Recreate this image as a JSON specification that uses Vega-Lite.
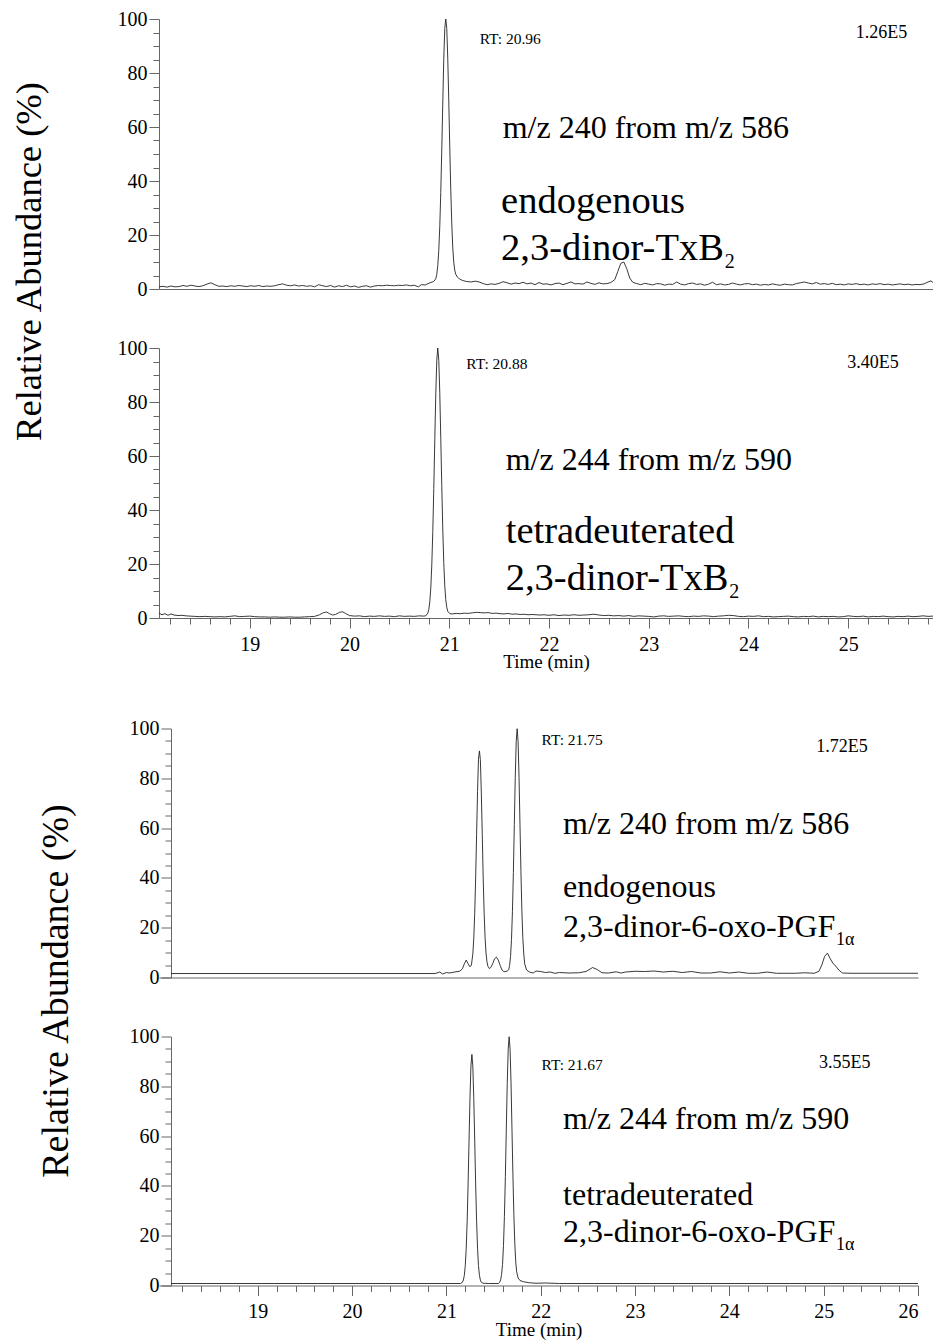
{
"$schema":"https://vega.github.io/schema/vega-lite/v6.json",
"background":"white",
"padding":{"left":10,"top":9,"right":0,"bottom":0},
"config":{"font":"Liberation Serif","view":{"stroke":null},"axis":{"labelFont":"Liberation Serif","titleFont":"Liberation Serif","domainWidth":1,"tickWidth":1},"text":{"font":"Liberation Serif"}},
"datasets":{
"c1":[{"t":18.09,"v":0.8},{"t":18.13,"v":1.0},{"t":18.17,"v":0.7},{"t":18.21,"v":1.1},{"t":18.25,"v":0.8},{"t":18.29,"v":0.9},{"t":18.33,"v":1.3},{"t":18.37,"v":1.0},{"t":18.41,"v":1.4},{"t":18.45,"v":1.1},{"t":18.49,"v":0.9},{"t":18.53,"v":1.2},{"t":18.57,"v":1.8},{"t":18.61,"v":2.3},{"t":18.65,"v":1.6},{"t":18.69,"v":1.0},{"t":18.73,"v":1.1},{"t":18.77,"v":0.9},{"t":18.81,"v":1.2},{"t":18.85,"v":1.0},{"t":18.89,"v":1.3},{"t":18.93,"v":1.1},{"t":18.97,"v":0.9},{"t":19.01,"v":1.2},{"t":19.05,"v":1.0},{"t":19.09,"v":1.3},{"t":19.13,"v":0.9},{"t":19.17,"v":1.1},{"t":19.21,"v":1.0},{"t":19.25,"v":1.2},{"t":19.29,"v":1.6},{"t":19.33,"v":1.9},{"t":19.37,"v":1.4},{"t":19.41,"v":1.2},{"t":19.45,"v":1.5},{"t":19.49,"v":1.1},{"t":19.53,"v":1.3},{"t":19.57,"v":1.0},{"t":19.61,"v":1.2},{"t":19.65,"v":0.8},{"t":19.69,"v":1.6},{"t":19.73,"v":1.2},{"t":19.77,"v":0.9},{"t":19.81,"v":1.3},{"t":19.85,"v":0.7},{"t":19.89,"v":1.2},{"t":19.93,"v":0.9},{"t":19.97,"v":1.4},{"t":20.01,"v":0.8},{"t":20.05,"v":1.1},{"t":20.09,"v":0.6},{"t":20.13,"v":1.0},{"t":20.17,"v":1.2},{"t":20.21,"v":0.7},{"t":20.25,"v":1.1},{"t":20.29,"v":1.3},{"t":20.33,"v":1.2},{"t":20.37,"v":1.4},{"t":20.41,"v":1.3},{"t":20.45,"v":1.2},{"t":20.49,"v":1.4},{"t":20.53,"v":1.3},{"t":20.57,"v":1.5},{"t":20.61,"v":1.2},{"t":20.65,"v":1.4},{"t":20.69,"v":0.8},{"t":20.72,"v":1.6},{"t":20.76,"v":1.5},{"t":20.80,"v":2.2},{"t":20.83,"v":2.6},{"t":20.845,"v":2.8},{"t":20.865,"v":3.8},{"t":20.875,"v":5.4},{"t":20.885,"v":8.7},{"t":20.895,"v":14.3},{"t":20.905,"v":23.2},{"t":20.915,"v":35.7},{"t":20.925,"v":51.5},{"t":20.935,"v":68.9},{"t":20.945,"v":84.9},{"t":20.955,"v":96.4},{"t":20.965,"v":100},{"t":20.975,"v":96.5},{"t":20.985,"v":85.5},{"t":20.995,"v":70},{"t":21.005,"v":53},{"t":21.015,"v":37},{"t":21.025,"v":24.5},{"t":21.035,"v":15.5},{"t":21.045,"v":10},{"t":21.055,"v":7},{"t":21.065,"v":5.5},{"t":21.08,"v":4.5},{"t":21.10,"v":3.8},{"t":21.13,"v":3.2},{"t":21.17,"v":2.8},{"t":21.22,"v":2.6},{"t":21.26,"v":2.9},{"t":21.30,"v":2.6},{"t":21.34,"v":2.0},{"t":21.38,"v":1.6},{"t":21.42,"v":1.9},{"t":21.46,"v":1.7},{"t":21.50,"v":2.1},{"t":21.54,"v":2.7},{"t":21.58,"v":2.3},{"t":21.62,"v":1.8},{"t":21.66,"v":2.2},{"t":21.70,"v":2.0},{"t":21.74,"v":2.5},{"t":21.78,"v":1.9},{"t":21.82,"v":2.2},{"t":21.86,"v":1.6},{"t":21.90,"v":2.4},{"t":21.94,"v":1.8},{"t":21.98,"v":1.9},{"t":22.02,"v":1.5},{"t":22.06,"v":2.0},{"t":22.10,"v":2.2},{"t":22.14,"v":1.6},{"t":22.18,"v":2.1},{"t":22.22,"v":2.6},{"t":22.26,"v":1.9},{"t":22.30,"v":2.0},{"t":22.34,"v":1.8},{"t":22.38,"v":2.6},{"t":22.42,"v":2.1},{"t":22.46,"v":1.7},{"t":22.50,"v":2.3},{"t":22.54,"v":1.9},{"t":22.58,"v":2.0},{"t":22.62,"v":2.4},{"t":22.66,"v":3.5},{"t":22.69,"v":6.5},{"t":22.72,"v":9.5},{"t":22.75,"v":10.0},{"t":22.78,"v":7.5},{"t":22.81,"v":4.0},{"t":22.84,"v":2.5},{"t":22.88,"v":2.0},{"t":22.92,"v":1.6},{"t":22.96,"v":2.1},{"t":23.00,"v":1.8},{"t":23.04,"v":1.5},{"t":23.08,"v":2.0},{"t":23.12,"v":1.9},{"t":23.16,"v":1.4},{"t":23.20,"v":1.8},{"t":23.24,"v":1.7},{"t":23.28,"v":2.6},{"t":23.32,"v":1.8},{"t":23.36,"v":1.5},{"t":23.40,"v":2.0},{"t":23.44,"v":2.2},{"t":23.48,"v":1.7},{"t":23.52,"v":1.9},{"t":23.56,"v":1.4},{"t":23.60,"v":1.8},{"t":23.64,"v":2.5},{"t":23.68,"v":1.6},{"t":23.72,"v":1.9},{"t":23.76,"v":1.5},{"t":23.80,"v":1.7},{"t":23.84,"v":2.2},{"t":23.88,"v":1.8},{"t":23.92,"v":1.5},{"t":23.96,"v":1.9},{"t":24.00,"v":2.0},{"t":24.04,"v":1.6},{"t":24.08,"v":1.8},{"t":24.12,"v":1.4},{"t":24.16,"v":1.7},{"t":24.20,"v":1.5},{"t":24.24,"v":1.9},{"t":24.28,"v":1.6},{"t":24.32,"v":1.4},{"t":24.36,"v":1.8},{"t":24.40,"v":1.6},{"t":24.44,"v":1.5},{"t":24.48,"v":2.0},{"t":24.52,"v":2.3},{"t":24.56,"v":2.6},{"t":24.60,"v":2.2},{"t":24.64,"v":1.9},{"t":24.68,"v":2.4},{"t":24.72,"v":1.8},{"t":24.76,"v":2.0},{"t":24.80,"v":1.7},{"t":24.84,"v":2.1},{"t":24.88,"v":1.6},{"t":24.92,"v":1.8},{"t":24.96,"v":1.5},{"t":25.00,"v":1.9},{"t":25.04,"v":1.7},{"t":25.08,"v":2.0},{"t":25.12,"v":1.6},{"t":25.16,"v":1.8},{"t":25.20,"v":1.5},{"t":25.24,"v":1.9},{"t":25.28,"v":1.7},{"t":25.32,"v":2.0},{"t":25.36,"v":1.6},{"t":25.40,"v":1.8},{"t":25.44,"v":1.5},{"t":25.48,"v":1.7},{"t":25.52,"v":1.9},{"t":25.56,"v":1.6},{"t":25.60,"v":1.8},{"t":25.64,"v":1.5},{"t":25.68,"v":1.7},{"t":25.72,"v":1.6},{"t":25.76,"v":1.9},{"t":25.80,"v":2.6},{"t":25.83,"v":3.0},{"t":25.85,"v":2.4}],
"c2":[{"t":18.09,"v":1.8},{"t":18.12,"v":1.2},{"t":18.15,"v":1.6},{"t":18.18,"v":1.0},{"t":18.21,"v":1.5},{"t":18.24,"v":1.1},{"t":18.28,"v":0.9},{"t":18.32,"v":1.0},{"t":18.36,"v":0.8},{"t":18.40,"v":0.7},{"t":18.45,"v":0.6},{"t":18.50,"v":0.5},{"t":18.55,"v":0.6},{"t":18.60,"v":0.5},{"t":18.65,"v":0.4},{"t":18.70,"v":0.5},{"t":18.75,"v":0.4},{"t":18.80,"v":0.6},{"t":18.85,"v":0.8},{"t":18.90,"v":0.5},{"t":18.95,"v":0.6},{"t":19.00,"v":0.7},{"t":19.05,"v":0.5},{"t":19.10,"v":0.4},{"t":19.15,"v":0.4},{"t":19.20,"v":0.3},{"t":19.25,"v":0.4},{"t":19.30,"v":0.3},{"t":19.35,"v":0.3},{"t":19.40,"v":0.4},{"t":19.45,"v":0.3},{"t":19.50,"v":0.3},{"t":19.55,"v":0.4},{"t":19.60,"v":0.5},{"t":19.65,"v":0.6},{"t":19.70,"v":1.2},{"t":19.74,"v":2.0},{"t":19.77,"v":2.2},{"t":19.80,"v":1.6},{"t":19.83,"v":1.1},{"t":19.86,"v":1.3},{"t":19.90,"v":2.1},{"t":19.93,"v":2.3},{"t":19.96,"v":1.7},{"t":20.00,"v":0.9},{"t":20.05,"v":0.7},{"t":20.10,"v":0.8},{"t":20.15,"v":0.5},{"t":20.20,"v":0.7},{"t":20.25,"v":0.6},{"t":20.30,"v":0.8},{"t":20.35,"v":0.6},{"t":20.40,"v":0.7},{"t":20.45,"v":0.5},{"t":20.50,"v":0.8},{"t":20.55,"v":0.6},{"t":20.60,"v":0.7},{"t":20.65,"v":0.6},{"t":20.70,"v":0.8},{"t":20.74,"v":0.7},{"t":20.765,"v":0.8},{"t":20.785,"v":1.8},{"t":20.795,"v":3.2},{"t":20.805,"v":6},{"t":20.815,"v":11.2},{"t":20.825,"v":19.6},{"t":20.835,"v":32},{"t":20.845,"v":48},{"t":20.855,"v":66},{"t":20.865,"v":83},{"t":20.875,"v":95.5},{"t":20.885,"v":100},{"t":20.895,"v":95.5},{"t":20.905,"v":83.5},{"t":20.915,"v":66.5},{"t":20.925,"v":49},{"t":20.935,"v":33},{"t":20.945,"v":20.5},{"t":20.955,"v":12},{"t":20.965,"v":6.8},{"t":20.975,"v":4},{"t":20.985,"v":2.5},{"t":21.005,"v":1.6},{"t":21.03,"v":1.5},{"t":21.07,"v":1.7},{"t":21.11,"v":1.6},{"t":21.15,"v":1.8},{"t":21.19,"v":1.7},{"t":21.23,"v":1.9},{"t":21.27,"v":2.1},{"t":21.31,"v":2.0},{"t":21.35,"v":1.9},{"t":21.39,"v":2.0},{"t":21.43,"v":1.7},{"t":21.47,"v":1.8},{"t":21.51,"v":1.6},{"t":21.55,"v":1.5},{"t":21.59,"v":1.7},{"t":21.63,"v":1.4},{"t":21.67,"v":1.5},{"t":21.71,"v":1.3},{"t":21.75,"v":1.4},{"t":21.79,"v":1.2},{"t":21.83,"v":1.3},{"t":21.87,"v":1.2},{"t":21.91,"v":1.1},{"t":21.95,"v":1.2},{"t":22.00,"v":1.0},{"t":22.05,"v":1.2},{"t":22.10,"v":0.9},{"t":22.15,"v":1.1},{"t":22.20,"v":1.0},{"t":22.25,"v":1.2},{"t":22.30,"v":1.0},{"t":22.35,"v":1.1},{"t":22.40,"v":1.2},{"t":22.45,"v":1.4},{"t":22.50,"v":1.1},{"t":22.55,"v":0.9},{"t":22.60,"v":1.0},{"t":22.65,"v":0.8},{"t":22.70,"v":0.9},{"t":22.75,"v":0.7},{"t":22.80,"v":0.9},{"t":22.85,"v":0.6},{"t":22.90,"v":0.8},{"t":22.95,"v":0.7},{"t":23.00,"v":0.6},{"t":23.05,"v":0.4},{"t":23.10,"v":0.7},{"t":23.15,"v":0.8},{"t":23.20,"v":0.6},{"t":23.25,"v":0.7},{"t":23.30,"v":0.8},{"t":23.35,"v":0.6},{"t":23.40,"v":0.5},{"t":23.45,"v":0.7},{"t":23.50,"v":0.6},{"t":23.55,"v":0.8},{"t":23.60,"v":0.7},{"t":23.65,"v":0.5},{"t":23.70,"v":0.7},{"t":23.75,"v":0.8},{"t":23.80,"v":1.0},{"t":23.85,"v":0.9},{"t":23.90,"v":0.6},{"t":23.95,"v":0.5},{"t":24.00,"v":0.7},{"t":24.05,"v":0.6},{"t":24.10,"v":0.8},{"t":24.15,"v":0.5},{"t":24.20,"v":0.6},{"t":24.25,"v":0.4},{"t":24.30,"v":0.5},{"t":24.35,"v":0.6},{"t":24.40,"v":0.7},{"t":24.45,"v":0.5},{"t":24.50,"v":0.4},{"t":24.55,"v":0.6},{"t":24.60,"v":0.5},{"t":24.65,"v":0.7},{"t":24.70,"v":0.4},{"t":24.75,"v":0.6},{"t":24.80,"v":0.5},{"t":24.85,"v":0.6},{"t":24.90,"v":0.4},{"t":24.95,"v":0.5},{"t":25.00,"v":0.8},{"t":25.05,"v":0.6},{"t":25.10,"v":0.5},{"t":25.15,"v":0.7},{"t":25.20,"v":0.4},{"t":25.25,"v":0.6},{"t":25.30,"v":0.5},{"t":25.35,"v":0.7},{"t":25.40,"v":0.5},{"t":25.45,"v":0.4},{"t":25.50,"v":0.6},{"t":25.55,"v":0.5},{"t":25.60,"v":0.7},{"t":25.65,"v":0.5},{"t":25.70,"v":0.6},{"t":25.75,"v":0.8},{"t":25.80,"v":0.6},{"t":25.85,"v":0.7}],
"c3":[{"t":18.08,"v":1.6},{"t":20.88,"v":1.6},{"t":20.93,"v":2.2},{"t":20.96,"v":1.4},{"t":21.00,"v":2.0},{"t":21.03,"v":1.8},{"t":21.06,"v":2.0},{"t":21.10,"v":2.3},{"t":21.14,"v":2.5},{"t":21.17,"v":3.5},{"t":21.19,"v":5.5},{"t":21.21,"v":7.0},{"t":21.23,"v":5.5},{"t":21.25,"v":4.3},{"t":21.265,"v":5.0},{"t":21.28,"v":9.4},{"t":21.29,"v":15.5},{"t":21.30,"v":25.7},{"t":21.31,"v":40},{"t":21.32,"v":57.5},{"t":21.33,"v":74.7},{"t":21.34,"v":87.7},{"t":21.35,"v":91},{"t":21.36,"v":87.5},{"t":21.37,"v":74.5},{"t":21.38,"v":57.5},{"t":21.39,"v":40},{"t":21.40,"v":26},{"t":21.41,"v":16},{"t":21.42,"v":9.8},{"t":21.43,"v":6.3},{"t":21.44,"v":4.5},{"t":21.455,"v":3.6},{"t":21.47,"v":4.0},{"t":21.49,"v":5.5},{"t":21.51,"v":7.5},{"t":21.53,"v":8.2},{"t":21.55,"v":7.0},{"t":21.57,"v":4.8},{"t":21.59,"v":3.0},{"t":21.61,"v":2.3},{"t":21.63,"v":2.4},{"t":21.65,"v":2.7},{"t":21.66,"v":3.1},{"t":21.67,"v":4.8},{"t":21.68,"v":8.5},{"t":21.69,"v":15.2},{"t":21.70,"v":26.4},{"t":21.71,"v":42.2},{"t":21.72,"v":61.5},{"t":21.73,"v":80.4},{"t":21.74,"v":94.7},{"t":21.75,"v":100},{"t":21.76,"v":94.7},{"t":21.77,"v":80.4},{"t":21.78,"v":61.5},{"t":21.79,"v":42.5},{"t":21.80,"v":27},{"t":21.81,"v":16},{"t":21.82,"v":9.5},{"t":21.83,"v":5.5},{"t":21.85,"v":3},{"t":21.88,"v":2.2},{"t":21.92,"v":1.8},{"t":21.95,"v":2.6},{"t":22.00,"v":2.4},{"t":22.05,"v":2.0},{"t":22.10,"v":2.2},{"t":22.15,"v":1.7},{"t":22.20,"v":2.0},{"t":22.30,"v":1.8},{"t":22.40,"v":1.9},{"t":22.48,"v":2.4},{"t":22.55,"v":4.0},{"t":22.60,"v":3.2},{"t":22.65,"v":1.9},{"t":22.72,"v":1.8},{"t":22.80,"v":2.3},{"t":22.85,"v":1.8},{"t":22.90,"v":2.2},{"t":23.00,"v":2.5},{"t":23.10,"v":2.4},{"t":23.20,"v":2.6},{"t":23.30,"v":2.2},{"t":23.40,"v":2.5},{"t":23.50,"v":2.0},{"t":23.60,"v":2.4},{"t":23.70,"v":1.8},{"t":23.80,"v":1.8},{"t":23.90,"v":2.3},{"t":24.00,"v":1.8},{"t":24.10,"v":2.2},{"t":24.20,"v":1.7},{"t":24.30,"v":1.7},{"t":24.40,"v":2.2},{"t":24.50,"v":1.7},{"t":24.60,"v":1.7},{"t":24.70,"v":1.7},{"t":24.80,"v":1.9},{"t":24.90,"v":1.7},{"t":24.95,"v":2.5},{"t":24.98,"v":5},{"t":25.01,"v":8.5},{"t":25.04,"v":9.8},{"t":25.07,"v":7.5},{"t":25.10,"v":5.6},{"t":25.13,"v":4.5},{"t":25.16,"v":3},{"t":25.20,"v":1.8},{"t":25.30,"v":1.7},{"t":26.00,"v":1.7}],
"c4":[{"t":18.08,"v":0.8},{"t":21.15,"v":0.8},{"t":21.17,"v":1.3},{"t":21.18,"v":2.2},{"t":21.19,"v":4.1},{"t":21.20,"v":8},{"t":21.21,"v":15},{"t":21.22,"v":25.8},{"t":21.23,"v":40.8},{"t":21.24,"v":58.4},{"t":21.25,"v":75.5},{"t":21.26,"v":88.1},{"t":21.27,"v":92.8},{"t":21.28,"v":88.1},{"t":21.29,"v":75.5},{"t":21.30,"v":58.4},{"t":21.31,"v":40.8},{"t":21.32,"v":25.8},{"t":21.33,"v":15},{"t":21.34,"v":8},{"t":21.35,"v":4.1},{"t":21.36,"v":2.2},{"t":21.37,"v":1.3},{"t":21.39,"v":0.9},{"t":21.45,"v":0.8},{"t":21.55,"v":0.8},{"t":21.565,"v":1.3},{"t":21.575,"v":2.3},{"t":21.585,"v":4.4},{"t":21.595,"v":8.5},{"t":21.605,"v":16},{"t":21.615,"v":27.7},{"t":21.625,"v":43.8},{"t":21.635,"v":62.8},{"t":21.645,"v":81.2},{"t":21.655,"v":94.8},{"t":21.665,"v":100},{"t":21.675,"v":95},{"t":21.685,"v":81.5},{"t":21.695,"v":63},{"t":21.705,"v":44.5},{"t":21.715,"v":28.5},{"t":21.725,"v":17},{"t":21.735,"v":9.5},{"t":21.745,"v":5.5},{"t":21.76,"v":3},{"t":21.78,"v":2},{"t":21.82,"v":1.5},{"t":21.88,"v":1.1},{"t":21.95,"v":0.9},{"t":22.05,"v":1.0},{"t":22.20,"v":0.8},{"t":26.00,"v":0.8}],
"a":[
{"p":"p1","r":"rt","t":21.305,"v":92.5,"label":"RT: 20.96"},
{"p":"p1","r":"sc","t":25.075,"v":94.7,"label":"1.26E5"},
{"p":"p1","r":"mz","t":21.536,"v":55.8,"label":"m/z 240 from m/z 586"},
{"p":"p1","r":"nm","t":21.52,"v":28.0,"label":"endogenous"},
{"p":"p1","r":"nm","t":21.52,"v":10.7,"label":"2,3-dinor-TxB"},
{"p":"p1","r":"sub","t":23.761,"v":7.8,"label":"2"},
{"p":"p2","r":"rt","t":21.171,"v":94.1,"label":"RT: 20.88"},
{"p":"p2","r":"sc","t":24.99,"v":94.4,"label":"3.40E5"},
{"p":"p2","r":"mz","t":21.566,"v":54.8,"label":"m/z 244 from m/z 590"},
{"p":"p2","r":"nm","t":21.566,"v":27.8,"label":"tetradeuterated"},
{"p":"p2","r":"nm","t":21.566,"v":10.4,"label":"2,3-dinor-TxB"},
{"p":"p2","r":"sub","t":23.807,"v":7.4,"label":"2"},
{"p":"p3","r":"rt","t":22.009,"v":95.3,"label":"RT: 21.75"},
{"p":"p3","r":"sc","t":24.92,"v":92.6,"label":"1.72E5"},
{"p":"p3","r":"mz","t":22.237,"v":57.8,"label":"m/z 240 from m/z 586"},
{"p":"p3","r":"nm","t":22.237,"v":32.4,"label":"endogenous"},
{"p":"p3","r":"nm","t":22.237,"v":16.3,"label":"2,3-dinor-6-oxo-PGF"},
{"p":"p3","r":"sub","t":25.131,"v":13.0,"label":"1α"},
{"p":"p4","r":"rt","t":22.009,"v":88.5,"label":"RT: 21.67"},
{"p":"p4","r":"sc","t":24.95,"v":89.2,"label":"3.55E5"},
{"p":"p4","r":"mz","t":22.237,"v":63.0,"label":"m/z 244 from m/z 590"},
{"p":"p4","r":"nm","t":22.237,"v":32.2,"label":"tetradeuterated"},
{"p":"p4","r":"nm","t":22.237,"v":17.5,"label":"2,3-dinor-6-oxo-PGF"},
{"p":"p4","r":"sub","t":25.131,"v":14.2,"label":"1α"}
]
},
"concat":[
{"vconcat":[
{"vconcat":[
{"width":774,"height":270,
"layer":[
{"data":{"name":"c1"},"mark":{"type":"line","stroke":"#222","strokeWidth":0.9,"clip":true},
"encoding":{"x":{"field":"t","type":"quantitative","scale":{"domain":[18.09,25.85],"nice":false,"zero":false},"axis":{"orient":"bottom","ticks":false,"labels":false,"title":null,"domainColor":"#666","grid":false}},
"y":{"field":"v","type":"quantitative","scale":{"domain":[0,100],"nice":false,"zero":false},"axis":{"orient":"left","values":[0,20,40,60,80,100],"format":"d","tickSize":10,"labelFontSize":20,"labelPadding":2,"domainColor":"#666","tickColor":"#666","labelColor":"#000","grid":false,"title":"Relative Abundance (%)","titleFontSize":36.5,"titleFontWeight":"normal","titleColor":"#000","titleAngle":-90,"titleAlign":"center","titleBaseline":"alphabetic","titleX":-119,"titleY":242}}}},
{"data":{"name":"a"},"transform":[{"filter":"datum.p=='p1' && datum.r=='rt'"}],"mark":{"type":"text","fontSize":15.5,"align":"left","baseline":"middle","color":"#000"},
"encoding":{"x":{"field":"t","type":"quantitative","scale":{"domain":[18.09,25.85],"nice":false,"zero":false},"axis":null},
"y":{"field":"v","type":"quantitative","scale":{"domain":[0,100],"nice":false,"zero":false},"axis":{"orient":"left","values":[5,10,15,25,30,35,45,50,55,65,70,75,85,90,95],"tickSize":6,"labels":false,"domain":false,"grid":false,"title":null,"tickColor":"#666"}},"text":{"field":"label"}}},
{"data":{"name":"a"},"transform":[{"filter":"datum.p=='p1' && datum.r=='sc'"}],"mark":{"type":"text","fontSize":18,"align":"left","baseline":"middle","color":"#000"},
"encoding":{"x":{"field":"t","type":"quantitative","scale":{"domain":[18.09,25.85],"nice":false,"zero":false},"axis":null},"y":{"field":"v","type":"quantitative","scale":{"domain":[0,100],"nice":false,"zero":false},"axis":null},"text":{"field":"label"}}},
{"data":{"name":"a"},"transform":[{"filter":"datum.p=='p1' && datum.r=='mz'"}],"mark":{"type":"text","fontSize":32,"align":"left","baseline":"alphabetic","color":"#000"},
"encoding":{"x":{"field":"t","type":"quantitative","scale":{"domain":[18.09,25.85],"nice":false,"zero":false},"axis":null},"y":{"field":"v","type":"quantitative","scale":{"domain":[0,100],"nice":false,"zero":false},"axis":null},"text":{"field":"label"}}},
{"data":{"name":"a"},"transform":[{"filter":"datum.p=='p1' && datum.r=='nm'"}],"mark":{"type":"text","fontSize":38.5,"align":"left","baseline":"alphabetic","color":"#000"},
"encoding":{"x":{"field":"t","type":"quantitative","scale":{"domain":[18.09,25.85],"nice":false,"zero":false},"axis":null},"y":{"field":"v","type":"quantitative","scale":{"domain":[0,100],"nice":false,"zero":false},"axis":null},"text":{"field":"label"}}},
{"data":{"name":"a"},"transform":[{"filter":"datum.p=='p1' && datum.r=='sub'"}],"mark":{"type":"text","fontSize":20,"align":"left","baseline":"alphabetic","color":"#000"},
"encoding":{"x":{"field":"t","type":"quantitative","scale":{"domain":[18.09,25.85],"nice":false,"zero":false},"axis":null},"y":{"field":"v","type":"quantitative","scale":{"domain":[0,100],"nice":false,"zero":false},"axis":null},"text":{"field":"label"}}}
],
"resolve":{"axis":{"x":"independent","y":"independent"}}},
{"width":774,"height":270,
"layer":[
{"data":{"name":"c2"},"mark":{"type":"line","stroke":"#222","strokeWidth":0.9,"clip":true},
"encoding":{"x":{"field":"t","type":"quantitative","scale":{"domain":[18.09,25.85],"nice":false,"zero":false},"axis":{"orient":"bottom","values":[19,20,21,22,23,24,25],"format":"d","tickSize":10,"labelFontSize":20,"labelPadding":6.5,"domainColor":"#666","tickColor":"#666","labelColor":"#000","grid":false,"title":"Time (min)","titleFontSize":19,"titleFontWeight":"normal","titleColor":"#000","titleBaseline":"alphabetic","titleY":49}},
"y":{"field":"v","type":"quantitative","scale":{"domain":[0,100],"nice":false,"zero":false},"axis":{"orient":"left","values":[0,20,40,60,80,100],"format":"d","tickSize":10,"labelFontSize":20,"labelPadding":2,"domainColor":"#666","tickColor":"#666","labelColor":"#000","grid":false,"title":null}}}},
{"data":{"name":"a"},"transform":[{"filter":"datum.p=='p2' && datum.r=='rt'"}],"mark":{"type":"text","fontSize":15.5,"align":"left","baseline":"middle","color":"#000"},
"encoding":{"x":{"field":"t","type":"quantitative","scale":{"domain":[18.09,25.85],"nice":false,"zero":false},"axis":{"orient":"bottom","values":[18.2,18.4,18.6,18.8,19.2,19.4,19.6,19.8,20.2,20.4,20.6,20.8,21.2,21.4,21.6,21.8,22.2,22.4,22.6,22.8,23.2,23.4,23.6,23.8,24.2,24.4,24.6,24.8,25.2,25.4,25.6,25.8],"tickSize":6,"labels":false,"domain":false,"grid":false,"title":null,"tickColor":"#666"}},
"y":{"field":"v","type":"quantitative","scale":{"domain":[0,100],"nice":false,"zero":false},"axis":{"orient":"left","values":[5,10,15,25,30,35,45,50,55,65,70,75,85,90,95],"tickSize":6,"labels":false,"domain":false,"grid":false,"title":null,"tickColor":"#666"}},"text":{"field":"label"}}},
{"data":{"name":"a"},"transform":[{"filter":"datum.p=='p2' && datum.r=='sc'"}],"mark":{"type":"text","fontSize":18,"align":"left","baseline":"middle","color":"#000"},
"encoding":{"x":{"field":"t","type":"quantitative","scale":{"domain":[18.09,25.85],"nice":false,"zero":false},"axis":null},"y":{"field":"v","type":"quantitative","scale":{"domain":[0,100],"nice":false,"zero":false},"axis":null},"text":{"field":"label"}}},
{"data":{"name":"a"},"transform":[{"filter":"datum.p=='p2' && datum.r=='mz'"}],"mark":{"type":"text","fontSize":32,"align":"left","baseline":"alphabetic","color":"#000"},
"encoding":{"x":{"field":"t","type":"quantitative","scale":{"domain":[18.09,25.85],"nice":false,"zero":false},"axis":null},"y":{"field":"v","type":"quantitative","scale":{"domain":[0,100],"nice":false,"zero":false},"axis":null},"text":{"field":"label"}}},
{"data":{"name":"a"},"transform":[{"filter":"datum.p=='p2' && datum.r=='nm'"}],"mark":{"type":"text","fontSize":38.5,"align":"left","baseline":"alphabetic","color":"#000"},
"encoding":{"x":{"field":"t","type":"quantitative","scale":{"domain":[18.09,25.85],"nice":false,"zero":false},"axis":null},"y":{"field":"v","type":"quantitative","scale":{"domain":[0,100],"nice":false,"zero":false},"axis":null},"text":{"field":"label"}}},
{"data":{"name":"a"},"transform":[{"filter":"datum.p=='p2' && datum.r=='sub'"}],"mark":{"type":"text","fontSize":20,"align":"left","baseline":"alphabetic","color":"#000"},
"encoding":{"x":{"field":"t","type":"quantitative","scale":{"domain":[18.09,25.85],"nice":false,"zero":false},"axis":null},"y":{"field":"v","type":"quantitative","scale":{"domain":[0,100],"nice":false,"zero":false},"axis":null},"text":{"field":"label"}}}
],
"resolve":{"axis":{"x":"independent","y":"independent"}}}
],"spacing":59,"bounds":"flush"}
]},
{"vconcat":[
{"vconcat":[
{"width":759,"height":249,
"layer":[
{"data":{"name":"c3"},"mark":{"type":"line","stroke":"#222","strokeWidth":0.9,"clip":true},
"encoding":{"x":{"field":"t","type":"quantitative","scale":{"domain":[17.9527,26.0],"nice":false,"zero":false},"axis":{"orient":"bottom","ticks":false,"labels":false,"title":null,"domainColor":"#666","grid":false}},
"y":{"field":"v","type":"quantitative","scale":{"domain":[0,100],"nice":false,"zero":false},"axis":{"orient":"left","offset":-12,"values":[0,20,40,60,80,100],"format":"d","tickSize":10,"labelFontSize":20,"labelPadding":2,"domainColor":"#666","tickColor":"#666","labelColor":"#000","grid":false,"title":"Relative Abundance (%)","titleFontSize":38,"titleFontWeight":"normal","titleColor":"#000","titleAngle":-90,"titleAlign":"center","titleBaseline":"alphabetic","titleX":-104,"titleY":262}}}},
{"data":{"name":"a"},"transform":[{"filter":"datum.p=='p3' && datum.r=='rt'"}],"mark":{"type":"text","fontSize":15.5,"align":"left","baseline":"middle","color":"#000"},
"encoding":{"x":{"field":"t","type":"quantitative","scale":{"domain":[17.9527,26.0],"nice":false,"zero":false},"axis":null},
"y":{"field":"v","type":"quantitative","scale":{"domain":[0,100],"nice":false,"zero":false},"axis":{"orient":"left","offset":-12,"values":[5,10,15,25,30,35,45,50,55,65,70,75,85,90,95],"tickSize":6,"labels":false,"domain":false,"grid":false,"tickColor":"#666","title":null}},"text":{"field":"label"}}},
{"data":{"name":"a"},"transform":[{"filter":"datum.p=='p3' && datum.r=='sc'"}],"mark":{"type":"text","fontSize":18,"align":"left","baseline":"middle","color":"#000"},
"encoding":{"x":{"field":"t","type":"quantitative","scale":{"domain":[17.9527,26.0],"nice":false,"zero":false},"axis":null},"y":{"field":"v","type":"quantitative","scale":{"domain":[0,100],"nice":false,"zero":false},"axis":null},"text":{"field":"label"}}},
{"data":{"name":"a"},"transform":[{"filter":"datum.p=='p3' && datum.r=='mz'"}],"mark":{"type":"text","fontSize":32,"align":"left","baseline":"alphabetic","color":"#000"},
"encoding":{"x":{"field":"t","type":"quantitative","scale":{"domain":[17.9527,26.0],"nice":false,"zero":false},"axis":null},"y":{"field":"v","type":"quantitative","scale":{"domain":[0,100],"nice":false,"zero":false},"axis":null},"text":{"field":"label"}}},
{"data":{"name":"a"},"transform":[{"filter":"datum.p=='p3' && datum.r=='nm'"}],"mark":{"type":"text","fontSize":32,"align":"left","baseline":"alphabetic","color":"#000"},
"encoding":{"x":{"field":"t","type":"quantitative","scale":{"domain":[17.9527,26.0],"nice":false,"zero":false},"axis":null},"y":{"field":"v","type":"quantitative","scale":{"domain":[0,100],"nice":false,"zero":false},"axis":null},"text":{"field":"label"}}},
{"data":{"name":"a"},"transform":[{"filter":"datum.p=='p3' && datum.r=='sub'"}],"mark":{"type":"text","fontSize":18,"align":"left","baseline":"alphabetic","color":"#000"},
"encoding":{"x":{"field":"t","type":"quantitative","scale":{"domain":[17.9527,26.0],"nice":false,"zero":false},"axis":null},"y":{"field":"v","type":"quantitative","scale":{"domain":[0,100],"nice":false,"zero":false},"axis":null},"text":{"field":"label"}}}
],
"resolve":{"axis":{"x":"independent","y":"independent"}}},
{"width":759,"height":249,
"layer":[
{"data":{"name":"c4"},"mark":{"type":"line","stroke":"#222","strokeWidth":0.9,"clip":true},
"encoding":{"x":{"field":"t","type":"quantitative","scale":{"domain":[17.9527,26.0],"nice":false,"zero":false},"axis":{"orient":"bottom","values":[19,20,21,22,23,24,25,26],"format":"d","tickSize":10,"labelFontSize":20,"labelPadding":6,"domainColor":"#666","tickColor":"#666","labelColor":"#000","grid":false,"title":"Time (min)","titleFontSize":19,"titleFontWeight":"normal","titleColor":"#000","titleBaseline":"alphabetic","titleY":50}},
"y":{"field":"v","type":"quantitative","scale":{"domain":[0,100],"nice":false,"zero":false},"axis":{"orient":"left","offset":-12,"values":[0,20,40,60,80,100],"format":"d","tickSize":10,"labelFontSize":20,"labelPadding":2,"domainColor":"#666","tickColor":"#666","labelColor":"#000","grid":false,"title":null}}}},
{"data":{"name":"a"},"transform":[{"filter":"datum.p=='p4' && datum.r=='rt'"}],"mark":{"type":"text","fontSize":15.5,"align":"left","baseline":"middle","color":"#000"},
"encoding":{"x":{"field":"t","type":"quantitative","scale":{"domain":[17.9527,26.0],"nice":false,"zero":false},"axis":{"orient":"bottom","values":[18.2,18.4,18.6,18.8,19.2,19.4,19.6,19.8,20.2,20.4,20.6,20.8,21.2,21.4,21.6,21.8,22.2,22.4,22.6,22.8,23.2,23.4,23.6,23.8,24.2,24.4,24.6,24.8,25.2,25.4,25.6,25.8],"tickSize":6,"labels":false,"domain":false,"grid":false,"title":null,"tickColor":"#666"}},
"y":{"field":"v","type":"quantitative","scale":{"domain":[0,100],"nice":false,"zero":false},"axis":{"orient":"left","offset":-12,"values":[5,10,15,25,30,35,45,50,55,65,70,75,85,90,95],"tickSize":6,"labels":false,"domain":false,"grid":false,"title":null,"tickColor":"#666"}},"text":{"field":"label"}}},
{"data":{"name":"a"},"transform":[{"filter":"datum.p=='p4' && datum.r=='sc'"}],"mark":{"type":"text","fontSize":18,"align":"left","baseline":"middle","color":"#000"},
"encoding":{"x":{"field":"t","type":"quantitative","scale":{"domain":[17.9527,26.0],"nice":false,"zero":false},"axis":null},"y":{"field":"v","type":"quantitative","scale":{"domain":[0,100],"nice":false,"zero":false},"axis":null},"text":{"field":"label"}}},
{"data":{"name":"a"},"transform":[{"filter":"datum.p=='p4' && datum.r=='mz'"}],"mark":{"type":"text","fontSize":32,"align":"left","baseline":"alphabetic","color":"#000"},
"encoding":{"x":{"field":"t","type":"quantitative","scale":{"domain":[17.9527,26.0],"nice":false,"zero":false},"axis":null},"y":{"field":"v","type":"quantitative","scale":{"domain":[0,100],"nice":false,"zero":false},"axis":null},"text":{"field":"label"}}},
{"data":{"name":"a"},"transform":[{"filter":"datum.p=='p4' && datum.r=='nm'"}],"mark":{"type":"text","fontSize":32,"align":"left","baseline":"alphabetic","color":"#000"},
"encoding":{"x":{"field":"t","type":"quantitative","scale":{"domain":[17.9527,26.0],"nice":false,"zero":false},"axis":null},"y":{"field":"v","type":"quantitative","scale":{"domain":[0,100],"nice":false,"zero":false},"axis":null},"text":{"field":"label"}}},
{"data":{"name":"a"},"transform":[{"filter":"datum.p=='p4' && datum.r=='sub'"}],"mark":{"type":"text","fontSize":18,"align":"left","baseline":"alphabetic","color":"#000"},
"encoding":{"x":{"field":"t","type":"quantitative","scale":{"domain":[17.9527,26.0],"nice":false,"zero":false},"axis":null},"y":{"field":"v","type":"quantitative","scale":{"domain":[0,100],"nice":false,"zero":false},"axis":null},"text":{"field":"label"}}}
],
"resolve":{"axis":{"x":"independent","y":"independent"}}}
],"spacing":59,"bounds":"flush"}
]}
],
"columns":1,
"align":"none",
"spacing":47.5
}
